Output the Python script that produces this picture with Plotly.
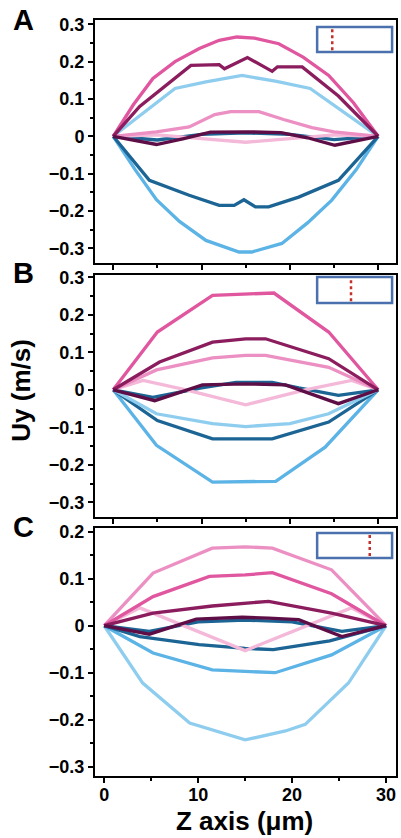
import plotly.graph_objects as go

# ---------------- velocity profiles Uy(z) ----------------
# Panel A
a_hot_z = [0, 2.3, 4.5, 7, 9.75, 12, 14, 16, 18.75, 21.5, 24.4, 27.2, 30]
a_hot_u = [0, 0.085, 0.155, 0.2, 0.235, 0.257, 0.266, 0.263, 0.248, 0.212, 0.163, 0.09, 0]
a_maroon_z = [0, 3, 8.8, 12.0, 12.6, 15.2, 18.0, 18.6, 21.4, 25.5, 30]
a_maroon_u = [0, 0.08, 0.19, 0.192, 0.181, 0.211, 0.174, 0.186, 0.186, 0.108, 0]
a_pink_z = [0, 4.9, 8.6, 11.5, 13.3, 16.5, 19.3, 22.5, 25, 30]
a_pink_u = [0, 0.012, 0.025, 0.058, 0.066, 0.066, 0.045, 0.023, 0.012, 0]
a_pale_z = [0, 5, 10, 15, 20, 25, 30]
a_pale_u = [0, 0.004, -0.006, -0.016, -0.006, 0.004, 0]
a_purple_z = [0, 4.9, 8, 11, 15, 19, 22, 25.1, 30]
a_purple_u = [0, -0.022, -0.006, 0.011, 0.012, 0.01, -0.004, -0.024, 0]
a_navy0_z = [0, 5, 10, 15, 20, 25, 30]
a_navy0_u = [0, -0.01, 0.005, 0.009, 0.005, -0.009, 0]
a_sky_z = [0, 7.0, 10.5, 14.6, 18.5, 22.3, 30]
a_sky_u = [0, 0.128, 0.146, 0.163, 0.147, 0.128, 0]
a_navy_z = [0, 4.1, 8.6, 12.0, 13.7, 14.8, 16.1, 17.6, 21, 25.5, 30]
a_navy_u = [0, -0.118, -0.158, -0.185, -0.185, -0.170, -0.189, -0.189, -0.163, -0.118, 0]
a_blue_z = [0, 2.5, 4.9, 7.5, 10.5, 14.25, 15.7, 19.1, 22, 24.75, 27.5, 30]
a_blue_u = [0, -0.09, -0.17, -0.228, -0.279, -0.31, -0.31, -0.287, -0.232, -0.171, -0.09, 0]

# Panel B
b_hot_z = [0, 5, 11.25, 15, 18.2, 24.4, 30]
b_hot_u = [0, 0.154, 0.252, 0.255, 0.258, 0.154, 0]
b_maroon_z = [0, 5.25, 11.25, 15, 17.25, 24.4, 30]
b_maroon_u = [0, 0.074, 0.127, 0.136, 0.136, 0.083, 0]
b_pink_z = [0, 4.9, 11.25, 15, 17.25, 24.4, 30]
b_pink_u = [0, 0.053, 0.085, 0.092, 0.092, 0.06, 0]
b_pale_z = [0, 3.4, 8.25, 15, 21.75, 27, 30]
b_pale_u = [0, 0.025, 0, -0.04, 0, 0.025, 0]
b_purple_z = [0, 4.7, 10.1, 15, 19.5, 25.5, 30]
b_purple_u = [0, -0.029, 0.013, 0.016, 0.013, -0.037, 0]
b_navy0_z = [0, 4.5, 10, 13.9, 18, 21, 25.5, 30]
b_navy0_u = [0, -0.02, 0.005, 0.02, 0.02, 0.005, -0.015, 0]
b_sky_z = [0, 4.9, 11.25, 15, 20, 24.4, 30]
b_sky_u = [0, -0.064, -0.09, -0.098, -0.09, -0.064, 0]
b_navy_z = [0, 5, 11.25, 18, 24.4, 30]
b_navy_u = [0, -0.082, -0.131, -0.131, -0.086, 0]
b_blue_z = [0, 4.9, 11.25, 15, 18.4, 24, 30]
b_blue_u = [0, -0.148, -0.246, -0.246, -0.244, -0.153, 0]

# Panel C
c_pink_z = [0, 5.2, 11.5, 15, 17.9, 24.2, 30]
c_pink_u = [0, 0.112, 0.165, 0.168, 0.165, 0.119, 0]
c_hot_z = [0, 5.2, 11.2, 15, 17.9, 24.2, 30]
c_hot_u = [0, 0.062, 0.105, 0.108, 0.113, 0.068, 0]
c_maroon_z = [0, 5.2, 11.5, 15, 17.5, 24.2, 30]
c_maroon_u = [0, 0.027, 0.042, 0.047, 0.052, 0.027, 0]
c_pale_z = [0, 3.8, 15, 26.3, 30]
c_pale_u = [0, 0.038, -0.053, 0.038, 0]
c_purple_z = [0, 4.8, 9.8, 14.7, 17.5, 20.7, 25.3, 30]
c_purple_u = [0, -0.018, 0.014, 0.018, 0.016, 0.013, -0.023, 0]
c_navy0_z = [0, 4.8, 10, 15, 20, 25.3, 30]
c_navy0_u = [0, -0.012, 0.008, 0.012, 0.008, -0.012, 0]
c_navy_z = [0, 3.8, 10.1, 15, 18, 24, 30]
c_navy_u = [0, -0.023, -0.04, -0.048, -0.051, -0.032, 0]
c_blue_z = [0, 5.2, 11.5, 15, 18.2, 24.2, 30]
c_blue_u = [0, -0.058, -0.094, -0.097, -0.1, -0.062, 0]
c_sky_z = [0, 4.1, 9.1, 15, 19.3, 21.4, 26, 30]
c_sky_u = [0, -0.122, -0.207, -0.243, -0.224, -0.21, -0.122, 0]

# ---------------- axis ticks ----------------
y_ticks_ab = [-0.3, -0.2, -0.1, 0, 0.1, 0.2, 0.3]
y_labels_ab = ["\u22120.3", "\u22120.2", "\u22120.1", "0", "0.1", "0.2", "0.3"]
y_ticks_c = [-0.3, -0.2, -0.1, 0, 0.1, 0.2]
y_labels_c = ["\u22120.3", "\u22120.2", "\u22120.1", "0", "0.1", "0.2"]
x_ticks = [0, 10, 20, 30]
x_labels = ["0", "10", "20", "30"]

# position of the probe line inside each channel sketch (fraction of width)
probe_pos = [0.25, 0.5, 0.75]

COL = {
    "hot": "#e0569f",
    "maroon": "#8b1d5e",
    "pink": "#ec8fc3",
    "pale": "#f4b8d8",
    "purple": "#5e0e46",
    "sky": "#8fcdef",
    "blue": "#5cb3e6",
    "navy": "#1c6494",
}

panels = [
    # (axis suffix, list of (z, u, colour key)) in drawing order
    ("", [(a_blue_z, a_blue_u, "blue"), (a_navy_z, a_navy_u, "navy"), (a_sky_z, a_sky_u, "sky"),
          (a_navy0_z, a_navy0_u, "navy"), (a_pale_z, a_pale_u, "pale"), (a_pink_z, a_pink_u, "pink"),
          (a_hot_z, a_hot_u, "hot"), (a_maroon_z, a_maroon_u, "maroon"), (a_purple_z, a_purple_u, "purple")]),
    ("2", [(b_blue_z, b_blue_u, "blue"), (b_navy_z, b_navy_u, "navy"), (b_sky_z, b_sky_u, "sky"),
           (b_navy0_z, b_navy0_u, "navy"), (b_pale_z, b_pale_u, "pale"), (b_pink_z, b_pink_u, "pink"),
           (b_hot_z, b_hot_u, "hot"), (b_maroon_z, b_maroon_u, "maroon"), (b_purple_z, b_purple_u, "purple")]),
    ("3", [(c_sky_z, c_sky_u, "sky"), (c_blue_z, c_blue_u, "blue"), (c_navy_z, c_navy_u, "navy"),
           (c_navy0_z, c_navy0_u, "navy"), (c_pale_z, c_pale_u, "pale"), (c_pink_z, c_pink_u, "pink"),
           (c_hot_z, c_hot_u, "hot"), (c_maroon_z, c_maroon_u, "maroon"), (c_purple_z, c_purple_u, "purple")]),
]

fig = go.Figure()
for suffix, curves in panels:
    for z, u, key in curves:
        fig.add_trace(go.Scatter(
            x=z, y=u, mode="lines", xaxis="x" + suffix, yaxis="y" + suffix,
            line=dict(color=COL[key], width=3.3), showlegend=False, hoverinfo="skip",
        ))

FONT = "Liberation Sans, Arial, sans-serif"
tickfont = dict(family=FONT, size=18, color="black", weight="bold")

y_domains = [[0.6786, 1.0], [0.3426, 0.6627], [0.0, 0.328]]
y_ranges = [[-0.3394, 0.3115], [-0.3392, 0.3061], [-0.3198, 0.2079]]
x_ranges = [[-2.06, 32.02], [-2.06, 32.02], [-0.98, 31.06]]

layout = dict(
    width=401, height=838,
    margin=dict(l=95, r=3, t=20, b=62),
    paper_bgcolor="white", plot_bgcolor="white",
)
for i, suffix in enumerate(["", "2", "3"]):
    anchor = "y" + suffix
    last = i == 2
    layout["xaxis" + suffix] = dict(
        domain=[0, 1], anchor=anchor, range=x_ranges[i],
        tickmode="array", tickvals=x_ticks, ticktext=x_labels,
        showticklabels=last, tickfont=tickfont, ticklabelstandoff=-4,
        ticks="outside", ticklen=5, tickwidth=2, tickcolor="black",
        minor=dict(tickmode="linear", tick0=0, dtick=5, ticks="outside",
                   ticklen=3, tickwidth=1.5, tickcolor="black"),
        showline=True, linecolor="black", linewidth=2, mirror=True,
        showgrid=False, zeroline=False,
    )
    yt, yl = (y_ticks_c, y_labels_c) if last else (y_ticks_ab, y_labels_ab)
    layout["yaxis" + suffix] = dict(
        domain=y_domains[i], anchor="x" + suffix, range=y_ranges[i],
        tickmode="array", tickvals=yt, ticktext=yl, tickfont=tickfont,
        ticks="outside", ticklen=5, tickwidth=2, tickcolor="black",
        minor=dict(tickmode="linear", tick0=0, dtick=0.05, ticks="outside",
                   ticklen=3, tickwidth=1.5, tickcolor="black"),
        showline=True, linecolor="black", linewidth=2, mirror=True,
        showgrid=False, zeroline=False,
    )
fig.update_layout(**layout)

# channel sketch with a dotted probe line, top-right of each panel
sketch_y = [[0.868, 0.971], [0.884, 0.992], [0.879, 0.980]]
for i, suffix in enumerate(["", "2", "3"]):
    xr, yr = "x" + suffix + " domain", "y" + suffix + " domain"
    x0, x1 = 0.738, 0.987
    y0, y1 = sketch_y[i]
    fig.add_shape(type="rect", xref=xr, yref=yr, x0=x0, x1=x1, y0=y0, y1=y1,
                  line=dict(color="#4a70ad", width=2.5), fillcolor="white")
    px = x0 + probe_pos[i] * (x1 - x0) - 0.012
    fig.add_shape(type="line", xref=xr, yref=yr, x0=px, x1=px,
                  y0=y0 + 0.008, y1=y1 - 0.008,
                  line=dict(color="#c4302b", width=2.5, dash="dot"))

# panel letters and axis titles
for letter, yy in [("A", 1.0), ("B", 0.665), ("C", 0.329)]:
    fig.add_annotation(text="<b>%s</b>" % letter, xref="paper", yref="paper",
                       x=-0.2376, y=yy, xanchor="center", yanchor="middle",
                       showarrow=False, font=dict(family=FONT, size=29, color="black"))

fig.add_annotation(text="<b>Uy (m/s)</b>", xref="paper", yref="paper",
                   x=-0.245, y=0.510, textangle=-90, xanchor="center", yanchor="middle",
                   showarrow=False, font=dict(family=FONT, size=26, color="black"))
fig.add_annotation(text="<b>Z axis (\u03bcm)</b>", xref="paper", yref="paper",
                   x=0.498, y=-0.060, xanchor="center", yanchor="middle",
                   showarrow=False, font=dict(family=FONT, size=26, color="black"))

fig.write_html("out.html")
